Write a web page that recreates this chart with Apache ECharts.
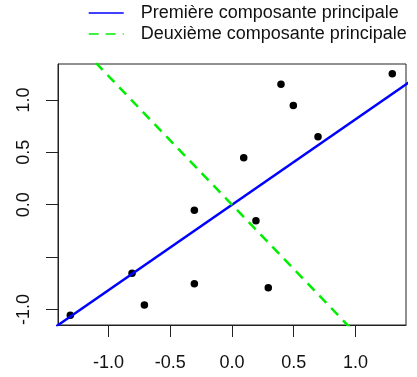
<!DOCTYPE html>
<html>
<head>
<meta charset="utf-8">
<script src="https://cdn.jsdelivr.net/npm/echarts@6/dist/echarts.min.js"></script>
<style>
  html, body { margin: 0; padding: 0; background: #fff; }
  #main { width: 417px; height: 377px; }
</style>
</head>
<body>
<div id="main"></div>
<script>
// points
var xs = [-1.31, -0.81, -0.71, -0.305, -0.305, 0.095, 0.194, 0.294, 0.397, 0.497, 0.697, 1.299];
var ys = [-1.055, -0.655, -0.957, -0.054, -0.754, 0.449, -0.153, -0.792, 1.149, 0.948, 0.649, 1.25];
// endpoints of the two principal component lines (extend past the box, clipped)
var comp1 = [[-1.6, -1.304], [1.6, 1.304]];
var comp2 = [[-1.2, 1.472], [1.2, -1.472]];
var xTicks = [-1.0, -0.5, 0.0, 0.5, 1.0];
var yTicks = [-1.0, -0.5, 0.0, 0.5, 1.0];
var yLabels = [-1.0, 0.0, 0.5, 1.0];
var names = ['Première composante principale', 'Deuxième composante principale'];

var pts = xs.map(function (x, i) { return [x, ys[i]]; });
var font = 'Liberation Sans, Arial, Helvetica, sans-serif';

var myChart = echarts.init(document.getElementById('main'));
var option = {
  animation: false,
  legend: {
    data: names,
    orient: 'vertical',
    left: 83,
    top: 0,
    padding: [3, 5, 5, 5],
    itemWidth: 35,
    itemHeight: 14,
    itemGap: 1,
    itemStyle: { opacity: 0 },
    lineStyle: { width: 1.4 },
    textStyle: { fontFamily: font, fontSize: 18, lineHeight: 20, color: '#111', padding: [0, 0, 0, 12] }
  },
  grid: { left: 58, right: 11, top: 64, bottom: 52, show: true, borderColor: '#222', borderWidth: 1 },
  xAxis: {
    type: 'value', min: -1.41, max: 1.41,
    splitLine: { show: false },
    axisLine: { show: true, onZero: false, lineStyle: { color: '#222' } },
    axisTick: { show: true, length: 12, customValues: xTicks, lineStyle: { color: '#222' } },
    axisLabel: {
      customValues: xTicks, margin: 29, fontFamily: font, fontSize: 18, color: '#111',
      formatter: function (v) { return v.toFixed(1); }
    }
  },
  yAxis: {
    type: 'value', min: -1.148, max: 1.343,
    splitLine: { show: false },
    axisLine: { show: true, onZero: false, lineStyle: { color: '#222' } },
    axisTick: { show: true, length: 12, customValues: yTicks, lineStyle: { color: '#222' } },
    axisLabel: {
      customValues: yLabels, rotate: 90, margin: 25, fontFamily: font, fontSize: 18, color: '#111',
      formatter: function (v) { return v.toFixed(1); }
    }
  },
  series: [
    {
      name: names[0], type: 'line', data: comp1, symbol: 'none', clip: true,
      lineStyle: { color: '#0000ff', width: 2.5 }, itemStyle: { color: '#0000ff' }
    },
    {
      name: names[1], type: 'line', data: comp2, symbol: 'none', clip: true,
      lineStyle: { color: '#00ee00', width: 2.5, type: [10, 7] }, itemStyle: { color: '#00ee00' }
    },
    {
      name: 'points', type: 'scatter', data: pts, symbolSize: 7.5,
      itemStyle: { color: '#000', opacity: 1 }
    }
  ]
};
myChart.setOption(option);
</script>
</body>
</html>
